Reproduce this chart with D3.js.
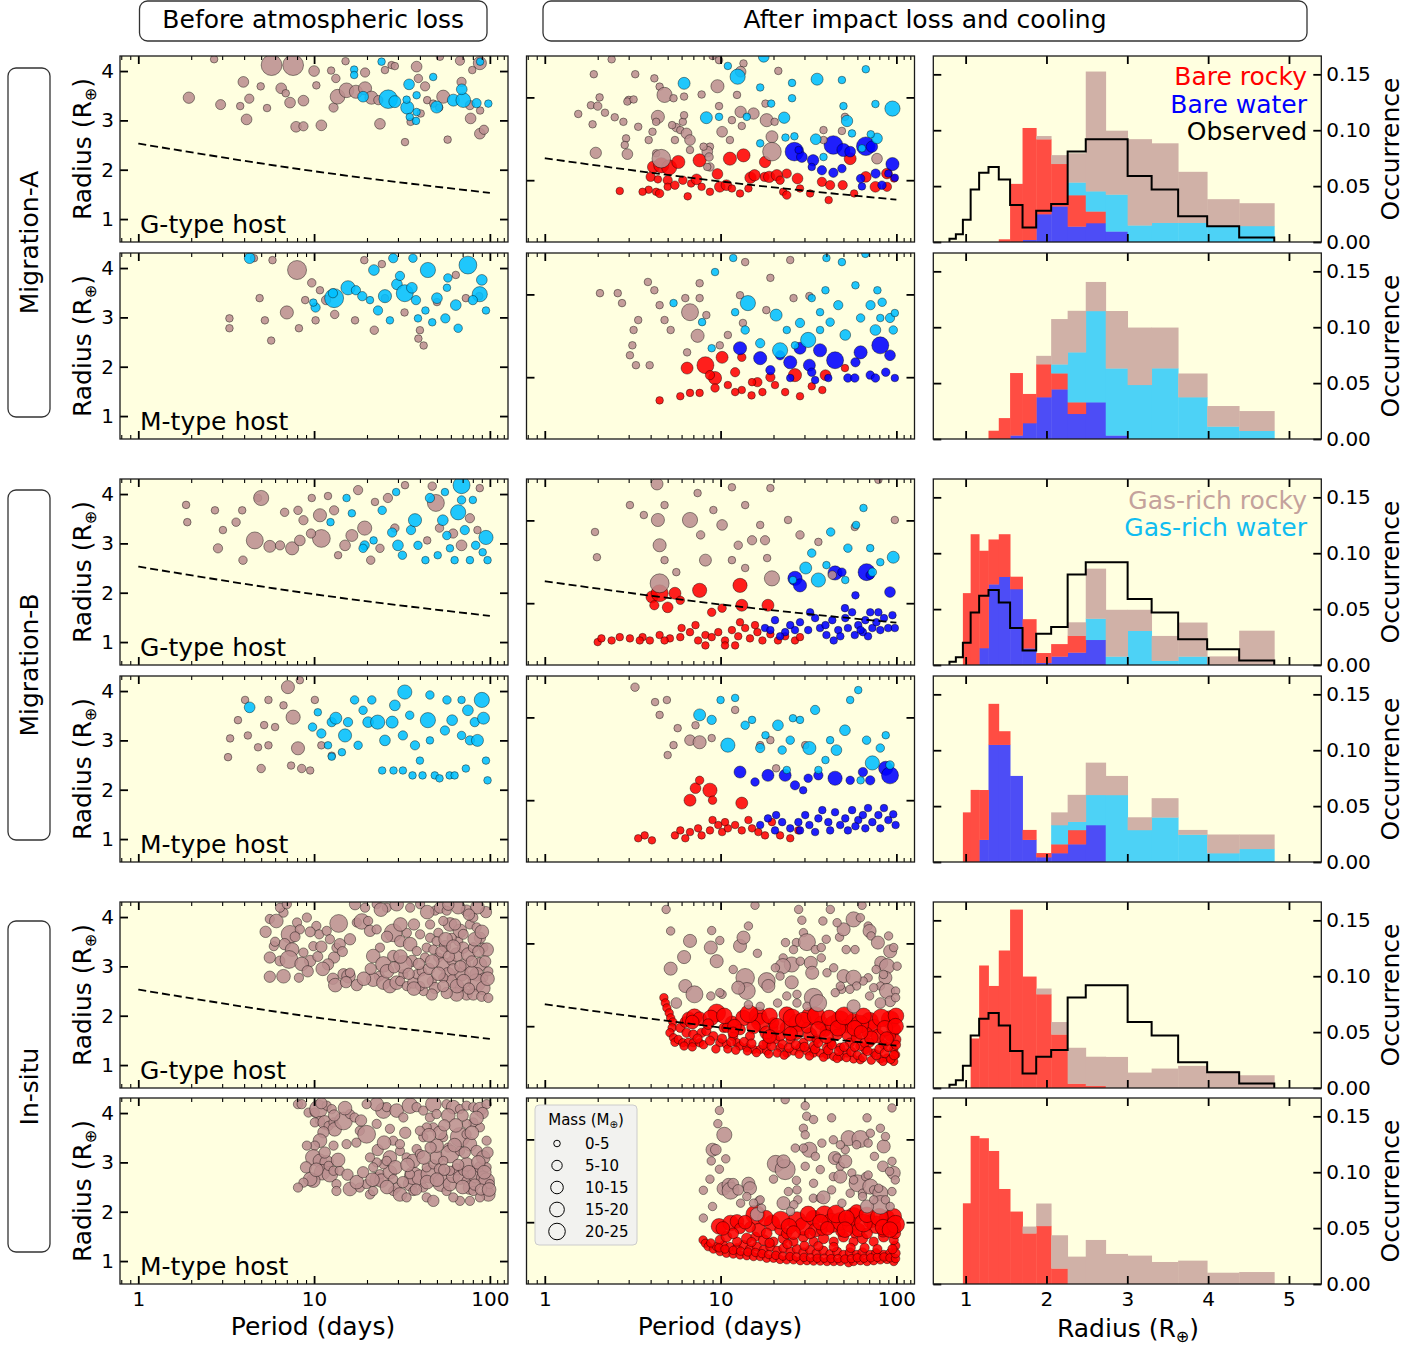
<!DOCTYPE html>
<html>
<head>
<meta charset="utf-8">
<script src="https://cdn.jsdelivr.net/npm/d3@7"></script>
<style>
  body { margin: 0; background: #ffffff; }
  svg text { font-family: "DejaVu Sans", sans-serif; }
</style>
</head>
<body>
<svg id="fig" width="1428" height="1348"></svg>
<script>
// ---------------------------------------------------------------
// Planet populations: [period (days), radius (R_earth), mass (M_earth)]
// Suffix 0 = before atmospheric loss, 1 = after impact loss and cooling
// a = Migration-A, b = Migration-B, s = In-situ; G / M = host type
// ---------------------------------------------------------------

// Migration-A, G-type host, before loss
const aG0Rocky = [[1.94,3.46,9],[2.94,3.32,7],[2.7,4.24,4],[3.96,3.78,8],[4.28,3.44,6],[4.13,3.02,8],[3.8,3.29,4],[4.97,3.69,4],[5.73,4.12,30],[7.6,4.12,30],[6.5,3.65,8],[6.9,3.55,4],[7.3,3.36,8],[5.4,3.25,4],[8.7,3.4,8],[7.9,2.87,8],[8.7,2.88,6],[11,2.9,8],[10,4.0,8],[10.3,3.71,4],[12.5,4.01,4],[13.3,3.85,5],[12.9,3.26,6],[13.6,3.48,15],[15.1,4.2,4],[15.3,3.61,15],[17.3,3.58,12],[19.5,3.65,12],[19.5,3.97,6],[21.2,3.46,12],[23.2,3.41,6],[23.7,2.93,8],[27.6,4.12,4],[25.3,4.02,4],[28.8,4.1,4],[38.3,4.09,8],[32.9,2.56,4],[39.2,3.85,5],[42.8,3.69,6],[35.4,2.97,4],[40.4,3.14,4],[44,3.41,4],[54.3,3.48,12],[51.5,3.26,4],[57.5,2.61,4],[67.6,4.21,6],[69,3.78,6],[77,3.31,6],[77.7,3.04,8],[87.7,4.16,12],[87.7,2.73,8],[92.5,2.81,6],[79.4,4.02,4],[52,4.29,4],[88,3.2,4],[47.6,3.34,4]];
const aG0Water = [[16.9,4.03,4],[16.9,3.92,4],[24.2,4.19,4],[19,3.48,8],[26.4,3.43,24],[28.8,3.38,10],[33.9,3.26,12],[34.7,3.73,8],[38.3,3.51,4],[33.6,3.42,4],[38,2.99,4],[35,3.07,4],[47.6,3.88,4],[49.8,3.27,10],[62,3.41,10],[70.6,3.41,15],[69.2,3.63,8],[84,3.35,6],[98,3.34,4],[88,4.19,4],[38.3,3.17,4]];

// Migration-A, M-type host, before loss
const aM0Rocky = [[3.3,2.98,4],[3.3,2.78,4],[4.55,4.2,4],[5.8,4.16,4],[5.25,2.94,4],[4.9,3.39,4],[7.0,3.1,12],[8.0,3.96,25],[5.7,2.53,4],[8.2,2.78,4],[8.9,3.35,4],[10.2,2.94,4],[10.8,3.55,4],[13.1,3.06,5],[17.1,2.94,4],[22,2.74,5],[19.3,4.16,4],[24.3,4.08,4],[32.7,3.1,4],[39.2,2.57,4],[42,2.43,4],[40,2.74,4],[64,3.86,4],[73,3.39,4],[87,3.43,4],[50,3.31,4],[11.7,3.35,6],[9.7,3.7,5],[25.3,3.39,4]];
const aM0Water = [[4.3,4.2,8],[13.0,3.39,25],[10.2,3.2,6],[15.6,3.6,14],[17.3,3.55,6],[18.8,3.43,6],[21.9,3.96,8],[23.1,3.14,6],[25.3,3.43,12],[28.2,4.2,6],[29.6,3.67,8],[30.8,3.84,6],[32.8,3.49,20],[36,3.6,8],[38,3.35,6],[44.4,3.96,16],[50,3.39,8],[57.7,3.8,5],[64,3.25,8],[75,4.06,22],[87.6,3.47,16],[90,3.76,8],[80,3.35,6],[95,3.14,4],[55.8,2.98,6],[39,2.98,4],[43,3.14,4],[47,2.9,4],[27,2.94,4],[20.8,3.35,4],[66,2.78,5],[57,3.6,4],[36.5,4.2,5],[12.8,3.49,6],[9.9,3.3,4]];

// Migration-B, G-type host, before loss
const bG0Rocky = [[1.9,3.43,4],[1.87,3.78,4],[2.73,3.67,4],[3.03,3.27,4],[2.84,2.9,6],[3.6,3.43,5],[3.9,3.67,4],[3.94,2.66,5],[4.6,3.06,20],[4.8,3.92,4],[5.0,3.92,16],[5.6,2.94,10],[6.4,2.96,6],[7.5,2.9,12],[8.3,3.06,8],[8.7,3.47,6],[10.8,3.57,12],[11,3.1,22],[8.1,3.67,5],[6.8,3.63,5],[9.6,3.2,6],[9.7,3.92,4],[12,3.96,4],[13,3.67,6],[13.7,2.76,4],[15,2.96,8],[16.4,3.16,10],[19.4,3.31,14],[21,2.66,5],[23.7,2.9,5],[17.8,4.08,6],[22.2,3.84,4],[26.3,3.92,6],[28.8,3.31,5],[32.9,4.18,4],[49.3,3.82,20],[47,4.16,5],[61.8,3.2,6],[69,2.96,8],[77,3.51,6],[87.6,4.12,4],[85,3.27,4],[44,3.06,4],[51.7,3.31,5]];
const bG0Water = [[15.3,3.92,4],[16.4,3.61,4],[19.4,2.96,6],[19,2.9,5],[24.4,3.67,5],[27.8,3.22,6],[30,2.96,8],[31.8,2.76,5],[35.6,3.27,6],[37.5,3.47,12],[39,2.96,5],[43,2.66,4],[45.6,3.92,6],[54,3.47,8],[56.9,3.16,5],[59.3,2.9,4],[66,3.63,16],[69,4.18,20],[72,3.27,6],[77,2.66,4],[83,2.96,5],[95,3.12,14],[97,2.66,4],[91,2.82,4],[63,2.66,4],[50.5,2.76,4],[80,3.88,4],[55.5,4.04,4],[29.3,4.04,4],[12.4,3.43,4],[21.8,3.06,4],[69,3.88,5]];

// Migration-B, M-type host, before loss
const bM0Rocky = [[3.24,2.66,4],[3.33,3.04,4],[3.69,3.41,4],[4.05,3.82,4],[4.8,2.86,4],[5.0,2.43,5],[5.2,3.31,4],[5.5,3.82,4],[6.0,3.27,4],[6.7,3.71,4],[7.1,4.08,12],[7.6,3.47,14],[8.1,2.84,12],[7.4,2.49,4],[8.5,2.43,5],[8.3,4.22,4],[10.1,3.82,4],[11,2.9,4],[12.6,2.69,4],[9.5,2.39,4],[5.5,2.9,4],[4.2,3.1,4]];
const bM0Water = [[4.3,3.67,8],[9.8,3.27,5],[10.5,3.57,4],[11,3.14,6],[12.6,3.37,6],[13.3,3.45,10],[15,3.1,12],[15.6,3.37,6],[17,3.82,5],[17.8,2.9,5],[19,3.61,5],[20.3,3.37,8],[23,3.37,14],[25.3,3.0,8],[27.8,3.37,10],[28.8,3.71,8],[32.8,3.98,14],[32,3.1,6],[35,3.51,5],[37.5,2.9,6],[40,2.59,4],[44.4,3.41,16],[45.6,3.92,5],[45.6,3.0,4],[48.6,2.29,4],[51.7,2.23,4],[55.5,3.2,6],[57,3.82,5],[59,2.29,4],[63,2.29,4],[69,3.82,4],[75,3.61,8],[77,3.0,6],[82,3.37,6],[85,3.0,10],[90,3.82,16],[92,3.45,10],[95,2.59,4],[97,2.19,4],[73,2.43,4],[41.4,2.29,4],[36.3,2.29,4],[32,2.39,4],[28.3,2.39,4],[24.4,2.39,4],[21.3,3.82,5],[69,3.1,5],[61,3.41,8],[14.4,2.76,4],[12.6,2.67,4],[12,2.9,4]];

// In-situ, G-type host, before loss
const sG0Rocky = [[5.6,3.96,6],[6.1,3.92,13],[6.7,4.09,6],[7.3,3.65,22],[6.8,3.45,9],[5.9,3.41,6],[7.5,3.34,13],[5.6,3.18,9],[6.4,3.11,7],[7.2,3.14,22],[6.7,2.8,13],[5.6,2.79,9],[8.2,2.77,6],[8.7,3.28,6],[9.5,3.11,9],[9.9,3.41,6],[10.3,3.82,6],[10.7,3.65,6],[11.8,3.72,6],[12.3,3.55,6],[13,3.18,9],[13.4,3.38,6],[13.8,3.87,22],[14,3.45,9],[12,3.04,9],[14.7,2.84,9],[15.7,2.8,13],[16,2.87,6],[17.5,3.89,6],[18.7,3.91,17],[20.3,3.92,6],[8.0,3.89,6],[8.3,3.75,6],[9.1,3.99,6],[6.4,4.19,6],[7.0,4.26,6],[17.1,4.26,9],[19.5,4.19,6],[22.7,4.26,6],[25.9,4.19,6],[29.5,4.26,13],[35.2,4.19,6],[40.1,4.26,6],[20.8,3.72,9],[22.7,3.75,6],[23.7,3.38,6],[21.7,3.21,13],[24.8,3.04,17],[23.5,2.8,7],[21.7,2.73,13],[24.8,2.67,13],[27,2.6,13],[29.5,2.67,13],[32.2,2.84,6],[28.2,3.68,22],[30.9,3.51,9],[33.7,3.68,6],[35.2,3.45,13],[38.4,3.31,6],[36,3.11,9],[32.2,3.04,22],[28.2,3.21,9],[30.9,2.7,6],[33.7,2.6,6],[36.7,2.67,9],[38.4,2.84,6],[41,2.9,6],[42.8,3.18,6],[43.7,3.38,6],[40.1,3.65,6],[45.7,3.58,6],[45.7,3.85,6],[48.8,4.13,6],[52,4.19,9],[56.8,4.13,6],[59.3,3.85,13],[54.3,3.92,6],[50.9,3.68,6],[49.8,3.51,6],[47.7,3.34,6],[50.9,3.18,6],[54.3,3.04,13],[60.6,3.11,6],[58,2.84,13],[61.9,2.7,13],[54.3,2.77,6],[46.7,2.7,6],[48.8,2.56,9],[67.6,2.56,6],[73.7,2.43,9],[69.1,2.84,13],[72.1,3.04,9],[64.7,3.24,13],[66.1,3.51,6],[67.6,3.72,13],[77,3.85,6],[73.7,4.13,9],[80.5,3.99,6],[84.1,3.79,6],[87.8,3.58,9],[91.8,3.38,6],[95.9,3.34,13],[87.8,3.04,13],[84.1,2.84,13],[91.8,2.77,6],[98,2.9,6],[84.1,2.67,22],[91.8,2.56,13],[80.5,2.43,9],[89.8,2.39,7],[98,2.36,6],[64.7,2.43,13],[56.8,2.46,9],[46.7,2.43,9],[41.9,2.5,6],[40.1,2.6,6],[70.6,3.38,9],[60.6,3.58,6],[55.6,3.41,9],[63.3,3.85,9],[70.6,3.65,7],[75.3,3.24,13],[80.5,3.38,7],[78.7,2.87,13],[61.9,2.94,9],[54.3,2.6,9],
  [5.3,3.7,9],[6.0,3.5,6],[7.8,3.6,7],[8.5,3.05,13],[9.2,2.9,9],[10.5,3.2,7],[11.2,2.95,13],[12.8,2.75,9],[13.2,2.62,13],[15.2,2.68,9],[17.5,2.62,9],[19.2,2.75,13],[21,2.95,9],[26,2.9,13],[28.5,2.98,9],[31,3.2,13],[34.5,2.85,9],[37,2.55,13],[39.5,3.05,9],[43,2.72,17],[45,2.95,9],[47,3.1,13],[51,2.85,13],[53,3.3,9],[56,3.55,13],[58.5,3.2,9],[62,3.4,13],[65,2.6,13],[68,3.0,9],[71,2.7,13],[76,2.55,9],[79,3.1,9],[82,3.55,13],[86,3.3,9],[90,3.7,13],[94,3.1,9],[97,2.75,13],[95,4.1,9],[85,4.2,13],[76,4.05,9],[66,4.2,13],[58,4.25,9],[44,4.1,13],[37,3.85,9],[31,3.85,13],[26,3.6,9],[24,4.15,13],[16,3.55,9],[14.5,3.3,7],[11,3.4,9],[9.5,3.7,7]];

// In-situ, M-type host, before loss
const sM0Rocky = [[8.1,4.18,6],[8.5,4.18,6],[9.3,4.01,6],[10.1,4.01,6],[10.6,4.08,22],[11.8,4.15,6],[12.6,4.08,6],[10.8,3.84,6],[10.1,3.81,6],[11.5,3.81,13],[12.1,3.74,6],[12.9,3.81,6],[13.1,3.67,13],[14.7,3.84,22],[16,3.98,6],[17,3.91,6],[18.2,3.64,6],[19.9,3.57,22],[17.4,3.4,6],[15.3,3.37,6],[12.9,3.34,6],[11.3,3.61,9],[10.8,3.44,13],[10.1,3.34,6],[9.1,3.34,6],[9.9,3.1,17],[10.8,3.03,13],[11.8,3.0,13],[11.1,2.8,17],[12.3,2.76,17],[12.1,2.93,6],[12.9,2.83,6],[13.4,2.56,6],[14,2.83,6],[9.9,2.63,13],[9.5,2.66,13],[8.7,2.59,6],[8.1,2.49,6],[13.4,2.42,6],[16,2.46,13],[18.2,2.49,6],[19.9,2.56,6],[20.8,2.35,6],[21.7,2.42,6],[22.7,2.66,13],[23.7,2.76,6],[24.2,2.63,13],[27,2.8,13],[28.2,2.66,6],[28.2,2.42,6],[29.5,2.49,6],[30.8,2.35,13],[33.6,2.29,6],[35.1,2.56,13],[36.7,2.73,22],[40,2.69,17],[41.8,2.49,6],[45.6,2.76,22],[43.7,2.9,6],[47.7,2.96,6],[49.8,3.1,13],[52,2.86,9],[53,2.59,22],[56.7,2.42,6],[59.3,2.56,13],[61.9,2.73,13],[64.7,2.86,9],[67.6,2.69,13],[70.6,2.83,6],[73.7,2.63,6],[77,2.49,13],[80.5,2.42,6],[84.1,2.76,22],[87.8,2.9,9],[91.7,2.69,13],[95.8,2.63,17],[98,2.35,13],[100,2.56,6],[87.8,2.29,6],[77,2.22,6],[67.6,2.22,6],[61.9,2.29,6],[27,3.1,13],[24.8,2.96,6],[25.9,3.03,6],[22.7,3.0,6],[20.8,3.1,6],[21.7,2.9,6],[30.8,3.23,6],[33.6,3.1,6],[36.7,3.03,13],[38.3,3.27,6],[40,3.17,6],[28.2,3.44,6],[30.8,3.37,6],[27,3.68,6],[22.7,3.78,6],[24.8,4.05,17],[25.9,4.12,6],[29.5,4.05,13],[22.7,4.18,13],[19.9,4.18,6],[32.2,3.91,6],[35.1,4.15,17],[38.3,4.12,6],[41.8,4.05,6],[47.7,4.18,17],[45.6,3.91,6],[49.8,3.98,6],[56.7,4.18,6],[61.9,4.12,13],[67.6,4.08,6],[73.7,4.15,6],[80.5,4.12,6],[87.8,4.08,13],[95.8,4.18,6],[47.7,3.71,6],[54.3,3.51,6],[58,3.3,6],[59.3,3.17,22],[67.6,3.51,26],[73.7,3.57,6],[77,3.37,13],[84.1,3.23,9],[91.7,3.1,13],[95.8,3.44,6],[87.8,3.71,6],[80.5,3.81,6],[73.7,3.78,6],[67.6,3.23,6],[54.3,3.03,6],[49.8,3.34,13],[41.8,3.51,6],[43.7,3.71,6],[40,3.64,6],[59.3,2.83,6],[35.1,2.76,6],[73.7,2.96,13],[95.8,2.9,6],[36.7,2.42,6],[43.7,2.29,6],[47.7,2.22,9],
  [9,2.9,9],[10.3,2.85,13],[11.5,3.2,9],[13.7,3.05,13],[15.5,2.75,9],[17.5,2.6,13],[19,2.8,9],[21.5,2.65,13],[23,3.25,9],[26,2.5,13],[29,2.9,13],[32,2.6,9],[34,2.95,13],[38,2.45,9],[42,3.1,13],[44,2.6,13],[46,3.3,9],[50,2.65,13],[52,3.6,13],[55,2.85,9],[58,3.95,13],[63,3.35,13],[66,2.95,9],[70,2.5,13],[72,3.2,9],[76,2.8,13],[79,3.6,13],[82,2.55,9],[86,3.0,13],[89,2.45,9],[93,2.8,13],[97,3.2,9],[99,2.45,13],[91,4.0,9],[84,3.9,13],[70,3.95,9],[64,3.75,13],[55,3.75,9],[45,3.55,13],[33,3.6,9],[25,3.4,13],[18.5,3.85,9],[15,4.1,13],[13,3.95,9],[11,4.2,9]];

// Migration-A, G-type host, after loss
const aG1Rocky = [[2.4,4.92,4],[1.9,4.56,4],[3.27,4.56,4],[4.2,4.46,4],[4.5,4.26,4],[4.8,4.06,16],[5.4,3.98,4],[6.2,4.02,4],[7.8,4.07,4],[9.6,4.27,12],[9.0,5.0,4],[9.8,4.9,4],[13.5,4.82,4],[13,4.62,8],[21.3,4.64,4],[12.4,4.06,4],[13,3.65,9],[15.4,3.61,9],[9.8,3.79,4],[11.6,3.45,4],[13.2,3.31,4],[10.2,3.17,8],[11.3,2.97,4],[8.7,2.81,4],[8.4,2.69,8],[8.6,2.56,5],[6.7,2.73,4],[6.1,3.41,4],[6.2,3.57,4],[5.6,3.27,5],[5.9,3.21,4],[6.4,3.13,8],[6.7,2.97,8],[5.3,3.33,4],[4.4,3.53,12],[4.3,3.41,4],[4.1,3.17,4],[3.9,2.97,4],[2.9,3.01,4],[2.85,2.85,4],[3.4,3.29,4],[2.8,3.41,4],[2.5,3.52,4],[1.87,3.35,4],[1.83,3.81,4],[2.0,3.79,5],[2.2,3.63,4],[2.05,4.0,4],[1.55,3.6,4],[3.0,3.94,4],[2.95,3.9,4],[3.2,3.95,4],[1.95,2.66,9],[2.95,2.63,8],[18.3,3.45,12],[19.6,3.05,10],[19.6,2.69,24],[20.3,3.41,4],[18,3.85,4],[38.5,2.97,4],[51,3.53,4],[49,3.19,4],[77.6,2.52,8],[38.5,3.21,4],[8,2.81,4],[8.7,2.32,5],[4.3,2.65,4],[5.5,2.97,4],[4.6,2.52,24],[8.4,2.32,4]];
const aG1Water = [[6.2,4.34,10],[11,4.76,4],[12.5,4.5,16],[17.6,4.98,8],[16.8,4.24,4],[19.4,3.85,4],[25.5,4.35,4],[25.5,3.98,4],[35.4,4.44,10],[49,4.42,4],[67,4.68,4],[50,3.79,4],[52.4,3.43,9],[55.9,3.13,4],[76,3.84,4],[95,3.73,16],[77.6,3.01,8],[71.5,3.11,4],[34.8,2.99,8],[23.4,3.03,4],[26.3,3.06,4],[23,3.51,9],[14.1,3.53,4],[16.8,2.89,4],[8.3,3.51,10],[9.8,3.53,4],[38.5,2.56,4],[63.7,2.77,4]];
const aG1BareWater = [[26.3,2.69,24],[29,2.56,8],[27.8,2.73,4],[33.6,2.48,9],[33,2.32,4],[37.7,2.24,6],[43.8,2.85,24],[50,2.73,12],[54.6,2.69,8],[67,2.82,24],[72.6,2.81,9],[43.8,2.18,6],[49,2.28,5],[62.6,2.04,5],[63.7,1.85,4],[76.2,2.16,6],[95,2.39,12],[90,2.16,4],[98,2.06,4],[82.8,1.88,5]];
const aG1BareRocky = [[4.15,2.32,10],[4.6,2.36,16],[5.1,2.31,16],[5.75,2.44,12],[7.6,2.48,12],[11.3,2.52,12],[13.5,2.6,12],[17.9,2.44,9],[17.8,2.08,6],[14.8,2.06,9],[15.6,2.12,9],[18.9,2.08,9],[20.9,2.12,9],[21.8,2.0,5],[23.8,2.16,6],[27.4,2.04,8],[22.7,1.72,4],[23.8,1.64,5],[32.3,1.68,4],[28.3,1.8,4],[37.7,1.96,6],[42,1.88,6],[49.5,1.88,6],[54.6,2.52,10],[57.5,1.68,4],[41.2,1.52,4],[67,2.08,8],[76,1.84,8],[88.4,1.84,6],[88.4,2.16,8],[97,2.04,4],[4,2.08,6],[4.4,2.02,4],[5,2.0,6],[3.9,1.77,4],[3.6,1.72,4],[4.3,1.72,4],[5,1.84,4],[5.5,1.88,5],[6.1,2.0,5],[6.8,1.92,4],[7.3,2.02,8],[7.8,1.84,4],[8.7,1.72,4],[9.6,2.15,8],[9.9,1.84,8],[10.8,1.88,8],[11.6,1.8,4],[12.9,1.68,4],[14.4,1.8,4],[2.67,1.74,4],[6.5,1.61,4],[4.5,1.68,5]];

// Migration-A, M-type host, after loss
const aM1Rocky = [[2.06,4.03,4],[2.6,4.03,4],[2.75,3.79,4],[3.2,3.14,4],[3.15,2.77,4],[3.05,2.53,4],[3.3,2.29,4],[3.4,3.38,4],[3.86,4.3,4],[4.2,4.1,4],[4.5,3.74,4],[4.8,3.38,4],[5.2,3.14,4],[6.3,3.91,4],[6.7,3.57,20],[7.4,3.0,12],[6.45,2.6,4],[7.6,3.91,4],[8.3,3.5,4],[9.9,2.77,4],[11,3.02,4],[12.9,3.98,4],[13.8,4.78,4],[19.2,4.4,4],[18.2,3.62,4],[26,3.91,4],[32,3.96,4],[24.9,4.83,4],[13.4,3.31,4],[3.95,2.29,4],[7.6,4.27,4]];
const aM1Water = [[14.3,3.79,16],[13.8,3.14,5],[12.1,3.57,4],[20.7,3.5,10],[23.8,3.14,4],[28.3,3.31,6],[31.5,2.9,16],[36.8,3.14,4],[33,3.91,4],[39.5,4.1,4],[46.7,3.74,6],[51.2,3.02,8],[62.6,3.43,5],[71.3,3.74,6],[76,3.14,8],[83,3.81,5],[92,3.43,6],[78,4.1,4],[58.5,4.22,4],[49,4.78,4],[40,4.88,4],[66.6,4.98,4],[11.8,4.88,4],[9.3,4.54,4],[5.4,3.79,4],[8.9,2.7,4],[7.85,3.33,4],[16.8,2.82,6],[21.8,2.65,16],[26.5,2.77,4],[36.8,3.57,4],[81,3.43,4],[96,3.14,5],[98,3.55,4],[42,3.33,5]];
const aM1BareWater = [[12.9,2.7,12],[16.8,2.46,12],[24.9,2.36,12],[28.3,2.7,10],[32,2.29,10],[36.8,2.65,12],[44.8,2.41,20],[58.5,2.36,6],[62.6,2.6,12],[81,2.77,20],[92,2.53,8],[71,2.05,5],[53,1.98,5],[41,1.98,4],[33,2.12,5],[58,1.98,5],[76,1.98,5],[87,2.12,5],[98,1.98,4],[34.5,1.93,4],[24.9,1.98,4],[21.8,2.53,6],[19.2,2.17,6]];
const aM1BareRocky = [[6.45,2.22,10],[8.2,2.29,20],[9.3,1.98,12],[10.2,2.48,10],[12.1,2.12,6],[13.2,2.48,5],[16.2,1.88,6],[26.5,2.05,12],[39.5,2.05,8],[9.3,1.74,5],[7.6,1.62,4],[6.7,1.62,4],[5.9,1.54,4],[4.5,1.44,4],[11,1.81,4],[13.2,1.69,4],[15.1,1.88,4],[17.3,1.64,4],[20.4,1.81,4],[23.3,1.64,4],[28.3,1.54,4],[33,1.78,4],[37.9,1.69,4],[15,1.56,4],[12.1,1.64,4],[8.7,2.05,6],[51,2.22,4],[19.2,2.0,6]];

// Migration-B, G-type host, after loss
const bG1Rocky = [[1.93,3.72,4],[1.98,3.11,4],[3.05,4.37,4],[3.66,4.13,4],[4.35,4.88,10],[4.4,4.01,12],[4.5,3.4,12],[4.8,4.37,4],[4.8,3.04,4],[5.6,2.75,4],[6.7,4.01,16],[7.7,3.65,5],[8.2,3.04,10],[7.4,4.66,4],[9.1,4.25,4],[10.2,3.89,8],[11.6,4.8,4],[13.8,4.37,4],[12.6,3.4,5],[15.1,3.52,6],[16.8,3.89,4],[19.2,4.78,4],[19.6,2.6,16],[18.4,3.09,4],[17.9,3.52,6],[13.8,2.85,4],[4.5,2.48,25],[11.6,3.04,4],[24.2,4.01,4],[28.3,3.65,5],[43.2,2.68,5],[79,4.98,4],[98,4.01,4],[36,3.48,4],[58,3.84,4]];
const bG1Water = [[30.5,2.85,10],[33,3.21,5],[36,2.56,14],[42.3,3.72,5],[59,3.89,4],[65,4.3,4],[73,2.75,5],[96,3.11,10],[51.2,2.56,4],[25.8,2.56,4],[81,2.99,4],[40,2.92,4],[53,3.33,5],[71,3.33,4]];
const bG1BareWater = [[26.5,2.6,14],[28.3,2.43,12],[44.8,2.73,14],[49,2.75,5],[67.7,2.75,20],[92,2.27,8],[71,2.68,5],[58.5,2.19,4],[17.9,1.4,4],[20.4,1.59,4],[23.3,1.3,4],[24.9,1.47,4],[28.3,1.54,4],[31.5,1.35,4],[34.5,1.64,4],[36.8,1.4,4],[40,1.23,4],[43.2,1.59,4],[46.7,1.35,4],[51.2,1.64,4],[53,1.4,4],[56,1.78,4],[60.7,1.47,4],[64.5,1.3,4],[66.6,1.59,4],[71,1.78,4],[73,1.4,4],[77,1.54,4],[81,1.35,4],[85,1.64,4],[89.8,1.4,4],[95,1.71,4],[98,1.4,4],[79,1.78,4],[69,1.2,4],[58,1.23,4],[48,1.2,4],[39.5,1.47,4],[32.3,1.78,4],[26.5,1.35,4],[21.8,1.2,4],[19.2,1.35,4],[51,1.88,4],[62.6,1.35,4],[44,1.1,4]];
const bG1BareRocky = [[4.07,2.15,10],[4.5,2.24,20],[5.5,2.24,10],[7.6,2.31,14],[12.9,2.43,14],[13.2,1.95,10],[18.6,1.95,10],[4.2,1.95,6],[5.0,1.9,8],[5.9,2.07,5],[10.2,1.88,5],[8.9,1.78,5],[2.0,1.06,4],[2.1,1.15,4],[2.4,1.1,4],[3.05,1.15,4],[3.6,1.18,4],[3.96,1.1,4],[4.5,1.23,4],[5.15,1.15,4],[5.9,1.18,4],[6.7,1.3,4],[7.45,1.1,4],[8.2,1.23,4],[8.9,1.18,4],[9.7,1.3,4],[10.6,1.1,4],[11.6,1.35,4],[12.6,1.2,4],[13.8,1.4,4],[14.7,1.15,4],[16.2,1.3,4],[17.3,1.1,4],[19.2,1.25,4],[21.2,1.1,4],[23.3,1.2,4],[26.5,1.1,4],[6.0,1.4,4],[7.2,1.47,4],[12.9,1.54,4],[15.7,1.47,4],[4.8,1.1,4],[8.2,0.98,4],[10.6,0.98,4],[28.3,1.18,4],[3.47,1.1,4],[2.67,1.18,4],[12.1,0.98,4]];

// Migration-B, M-type host, after loss
const bM1Rocky = [[3.26,4.73,5],[4.24,4.37,4],[4.5,4.06,4],[4.95,4.42,4],[5.0,3.09,4],[5.4,3.33,4],[5.7,3.74,4],[6.7,3.45,8],[7.6,3.4,12],[7.2,3.81,4],[8.9,3.5,4],[12.1,4.18,4],[16.8,3.33,4],[19.2,3.45,4],[20.7,2.77,4],[30.3,3.33,4]];
const bM1Water = [[7.6,4.06,10],[8.9,3.94,6],[10,4.42,4],[12.1,4.47,4],[11,3.33,14],[13.8,3.81,5],[15.1,3.94,4],[16.8,3.26,6],[18,3.57,4],[21.2,3.81,8],[22.4,3.21,5],[24.9,3.45,5],[25.8,3.98,4],[28.3,3.94,4],[32,3.26,12],[34.5,4.18,6],[36,2.73,4],[39.5,2.97,4],[45.6,3.21,8],[51,3.69,8],[54.6,4.42,4],[60.7,4.66,4],[67.7,3.45,5],[73,2.9,14],[81,3.26,5],[92,2.85,5],[87,3.57,4],[42,3.45,4],[23.8,2.73,4],[62.6,2.48,4]];
const bM1BareWater = [[12.9,2.68,10],[15.7,2.44,5],[18.6,2.6,10],[23.3,2.6,10],[26.5,2.36,6],[31.5,2.53,5],[36,2.6,6],[44.8,2.53,14],[54.6,2.48,5],[64.5,2.68,6],[71,2.48,6],[87,2.77,14],[92,2.6,20],[29.5,2.24,4],[16.8,1.4,4],[18.6,1.56,4],[20.4,1.27,4],[22.4,1.47,4],[24.9,1.32,4],[27.7,1.47,4],[30.3,1.64,4],[32,1.4,4],[36,1.56,4],[37.9,1.76,4],[41,1.47,4],[44.8,1.71,4],[47.9,1.4,4],[51.2,1.56,4],[56,1.76,4],[60.7,1.52,4],[64.5,1.64,4],[69,1.81,4],[73,1.47,4],[79,1.64,4],[85,1.81,4],[90,1.52,4],[96,1.66,4],[99,1.4,4],[66.6,1.32,4],[53,1.27,4],[42,1.27,4],[34.5,1.23,4],[28.3,1.27,4],[20.7,1.64,4],[58.5,1.37,4],[81,1.32,4]];
const bM1BareRocky = [[6.7,2.0,10],[8.7,2.24,14],[7.2,2.29,8],[13.2,1.93,10],[7.6,2.48,5],[9,2.0,5],[3.4,1.08,4],[3.7,1.15,4],[4.07,1.03,4],[5.5,1.15,4],[5.9,1.27,4],[6.7,1.23,4],[7.45,1.32,4],[7.8,1.15,4],[8.7,1.27,4],[9.7,1.4,4],[10.2,1.23,4],[11,1.32,4],[12.1,1.4,4],[13.2,1.27,4],[14.4,1.52,4],[15.1,1.32,4],[16.4,1.23,4],[17.9,1.15,4],[19.6,1.47,4],[21.8,1.15,4],[24.9,1.08,4],[27.7,1.27,4],[9,1.52,4],[10.6,1.47,4],[6.3,1.08,4]];

// In-situ, G-type host, after loss
const sG1Rocky = [[4.9,4.82,5],[5.2,4.3,5],[5.2,3.39,12],[6.2,3.67,12],[6.7,4.06,12],[6.3,2.97,12],[7.1,2.77,20],[5.6,2.56,8],[8.8,3.9,12],[8.9,4.31,5],[9.5,3.57,12],[9.9,4.07,5],[10.2,2.77,5],[8.8,2.73,5],[12.9,3.94,12],[13.5,4.14,12],[14.4,4.42,5],[13.8,3.17,24],[14.1,2.85,20],[12.6,2.93,12],[15.7,4.92,5],[16.2,3.76,5],[18.3,3.09,20],[18.7,2.97,12],[14.4,2.52,5],[16.8,2.48,5],[21.1,2.56,5],[22.7,3.65,5],[23.4,4.02,5],[25.4,3.49,16],[22.6,3.45,16],[25.4,3.06,12],[27.2,2.77,5],[27,4.02,5],[27.8,4.82,5],[29,4.56,5],[29.6,4.26,5],[31,4.03,20],[32.6,3.53,12],[33.2,3.29,12],[34.6,3.85,5],[37.4,3.9,5],[37.4,3.65,5],[33.8,2.69,24],[31,2.48,5],[35.9,2.56,20],[38.2,4.54,5],[39.9,4.1,5],[40.3,3.29,5],[42.1,4.82,5],[47.5,4.15,5],[50.1,4.34,12],[51.8,3.85,5],[50.1,3.21,12],[48.9,2.89,5],[44.9,2.81,5],[57.1,4.58,16],[58.2,3.85,5],[62.4,4.62,5],[63.8,4.92,5],[69.1,4.42,5],[70.4,4.3,12],[71.8,4.18,5],[78.5,4.02,12],[82,3.53,12],[88.5,3.45,16],[90.3,4.18,5],[92.2,3.81,12],[96.6,3.9,5],[101,3.45,5],[86.6,3.17,12],[81.1,2.97,5],[88.5,2.85,16],[92.2,2.6,8],[69.1,3.17,5],[64.7,3.09,5],[70.4,2.73,5],[57.1,3.17,16],[59.4,2.97,5],[54.4,2.89,5],[81.1,2.56,8],[57.1,2.48,12],[99,2.85,5],[99,2.69,5],[48,2.97,5],[44,3.41,5],[46,4.5,5],[76.7,3.37,5],[74.3,2.93,5],[84.5,3.25,5],[26,3.85,5],[28.4,3.57,5],[20.5,3.41,5],[21.8,3.21,5],[23.8,2.73,5],[27.2,2.56,5],[9.9,2.81,5],[11.8,3.37,5]];
const sG1BareRocky = [[4.76,2.69,5],[4.85,2.56,5],[4.95,2.44,5],[5.1,2.32,5],[5.2,2.2,5],[5.35,2.1,5],[5.3,1.96,5],[5.15,1.84,5],[5.4,1.72,5],[5.5,1.61,5],[5.75,1.68,5],[6.1,1.6,5],[6.55,1.61,5],[7.0,1.6,5],[7.6,1.6,5],[5.9,1.96,6],[6.3,2.1,8],[6.6,2.18,13],[7.1,2.23,17],[7.6,2.18,13],[6.4,1.84,6],[7.0,1.8,6],[7.8,1.84,6],[9.5,2.32,22],[8.3,1.88,6],[9.1,1.76,6],[9.9,1.6,5],[10.8,1.56,5],[11.6,2.08,13],[10.4,1.96,6],[11.8,1.76,6],[12.4,1.6,5],[12.9,1.52,5],[14.1,1.48,5],[15.4,1.44,5],[16.8,1.44,5],[13.5,2.2,17],[16.3,2.24,22],[16.8,2.1,22],[15.4,1.98,13],[14.7,1.76,6],[18.3,1.84,13],[20,1.96,6],[20.5,1.68,6],[18.3,1.6,6],[21.8,1.77,8],[21.8,1.48,5],[23.8,2.28,17],[23.8,1.96,13],[25,1.68,6],[26,1.4,5],[27.5,2.08,22],[27,1.84,13],[29.6,1.6,6],[31,1.4,5],[33.8,1.35,5],[36.9,1.35,5],[32.3,2.24,22],[32.3,1.8,13],[35.2,1.68,6],[37.4,2.08,13],[39.4,1.88,8],[42.1,1.6,8],[40.3,1.31,5],[44,1.27,5],[48,1.27,5],[44,2.04,22],[48,2.16,22],[52.4,2.0,13],[54.4,1.84,22],[57.1,2.12,17],[54.4,1.6,6],[59.4,1.72,8],[52.4,1.35,5],[57.1,1.21,5],[62.4,1.19,5],[66.5,1.44,6],[70.4,2.12,22],[74.9,2.0,13],[78.5,1.76,13],[74.3,1.35,5],[81.1,1.21,5],[88.5,1.23,5],[92.2,2.16,22],[96.6,1.92,13],[99,1.68,8],[96.6,1.44,5],[99,1.31,5],[96.6,1.15,5],[84.5,1.56,6],[70.4,1.6,6],[62.4,1.52,6],[48,1.48,6],[40.3,1.48,6],[33.8,1.52,6],[28.4,1.48,6],[21,1.35,5],[23.8,1.35,5],[18.3,1.4,5],[10.8,1.96,6],[92.2,1.76,8],[68.1,1.84,8],[46,1.8,8],[31,1.96,8],[20,2.08,8],[12.9,1.92,8],
  [6.2,1.52,5],[6.9,1.5,5],[7.4,1.7,6],[8.0,1.55,5],[8.7,1.65,6],[9.4,1.45,5],[10.2,1.7,6],[11,1.45,5],[11.5,1.62,6],[12.2,1.42,5],[13.6,1.62,6],[14.2,1.4,5],[15,1.58,6],[16,1.36,5],[17.5,1.55,6],[18.8,1.33,5],[19.5,1.52,6],[22.5,1.56,6],[23,1.3,5],[24.5,1.48,6],[26.8,1.55,6],[28,1.32,5],[30,1.5,6],[32,1.28,5],[34.5,1.45,6],[36,1.6,6],[38.5,1.25,5],[41,1.42,6],[43,1.55,6],[46,1.22,5],[47,1.4,6],[50.5,1.5,6],[52,1.24,5],[55.5,1.38,6],[58,1.5,6],[60,1.3,5],[64.5,1.24,5],[66,1.6,6],[68.5,1.4,6],[72,1.18,5],[77,1.3,6],[80,1.45,6],[84,1.15,5],[86,1.35,6],[90,1.5,6],[93,1.2,5],[97,1.3,6],[99.5,1.55,6],
  [6.9,2.1,13],[8.8,2.2,17],[10.5,2.25,17],[12,2.0,13],[14.5,2.3,22],[19,2.25,17],[21,2.0,17],[25.5,2.2,22],[29.5,2.15,17],[35,2.25,22],[36,1.92,17],[41.5,2.2,17],[46.5,1.95,17],[50.5,2.25,22],[62,2.05,22],[65,2.25,17],[82,2.2,22],[86,1.95,17],[99.5,2.25,17],[99,2.0,17],[58,1.95,17],[88,1.7,13],[72,1.72,13],[63,1.85,13],[40,1.75,13],[25,1.82,13],[19,1.75,13],[11.8,1.85,8],[8.5,2.05,8]];

// In-situ, M-type host, after loss
const sM1Rocky = [[9.85,4.7,5],[9.65,4.38,5],[9.0,3.75,12],[9.4,3.75,8],[10.5,4.11,16],[10.7,3.53,5],[8.85,3.48,5],[9.85,3.28,5],[8.7,3.04,5],[7.98,2.77,5],[10.4,2.81,12],[11.1,2.9,12],[11.4,2.76,20],[11.8,2.93,8],[12.6,2.78,8],[14.4,2.93,12],[14.7,2.82,12],[14.1,2.62,5],[13,2.46,5],[9.0,2.38,5],[7.98,2.1,5],[16.1,2.19,12],[16.5,2.52,5],[17.1,2.34,5],[20.6,3.41,20],[23.3,3.27,28],[22.8,3.47,12],[20,3.04,5],[23.3,4.96,5],[27.5,2.54,5],[30.3,4.81,5],[30.9,4.56,5],[33.8,4.48,5],[29.6,4.27,5],[30.3,4.11,5],[32,3.75,16],[29.6,3.79,5],[26.6,3.79,5],[27,3.01,5],[24.3,2.74,5],[22.8,2.46,12],[26.1,2.42,5],[27.2,2.78,5],[33.7,2.58,5],[36.9,2.58,5],[38.5,2.6,12],[42.8,4.52,5],[44.7,3.55,12],[43.8,3.1,5],[42.8,2.78,5],[53.5,4.03,16],[62.4,4.01,20],[69.1,3.91,5],[68.1,4.52,5],[51.2,3.75,5],[48,3.87,5],[46,3.55,5],[48,3.35,5],[51.2,3.47,12],[48,3.1,12],[55.8,3.19,5],[60.1,2.94,20],[64.2,2.7,5],[66.9,3.1,5],[69.1,3.14,5],[71.1,2.86,16],[74.3,2.78,5],[81.1,2.7,16],[81.1,2.42,24],[79.3,2.82,5],[83.8,3.35,8],[84.7,3.83,12],[81.1,4.27,5],[86.7,4.07,5],[94.4,3.47,5],[96.6,3.19,12],[98.6,3.02,5],[91.5,3.23,5],[94.4,2.74,5],[94.4,4.76,5],[54.6,2.7,5],[57.1,3.02,5],[64.2,2.62,5],[49,2.46,5],[68.1,2.38,12],[74.3,2.54,5],[86.7,2.54,5],[92.2,2.38,5],[75,3.59,5],[71.1,4.15,5],[59.4,3.87,5],[43.8,3.99,5],[37.7,3.91,5],[34.6,3.59,5],[36.9,3.27,5],[33.8,2.94,5],[30.3,3.35,5],[16.8,2.54,5],[15.4,2.46,5],[25,2.26,5]];
const sM1BareRocky = [[7.95,1.57,5],[8.2,1.49,5],[8.5,1.41,5],[9.1,1.35,5],[9.93,1.29,5],[10.8,1.25,5],[11.8,1.23,5],[12.9,1.21,5],[14.1,1.19,5],[15.4,1.17,5],[16.8,1.17,5],[18.3,1.13,5],[20,1.13,5],[21.8,1.1,5],[23.8,1.09,5],[26,1.09,5],[28.4,1.07,5],[31,1.07,5],[33.8,1.06,5],[36.9,1.06,5],[40.3,1.05,5],[44,1.05,5],[48,1.05,5],[53.5,1.02,5],[57.1,1.05,5],[62.4,1.07,5],[68.1,1.05,5],[74.3,1.07,5],[81.1,1.09,5],[88.5,1.1,5],[96.6,1.05,5],[9.5,1.41,5],[10.4,1.45,5],[11.3,1.41,5],[12.4,1.37,6],[13.5,1.45,6],[14.7,1.35,6],[16.1,1.41,6],[17.6,1.33,6],[19.2,1.41,6],[21,1.31,6],[22.8,1.37,6],[25,1.29,6],[27.2,1.35,6],[29.6,1.27,6],[32.3,1.33,6],[35.2,1.25,6],[38.5,1.31,6],[42.1,1.23,6],[46,1.29,6],[50,1.21,6],[54.4,1.27,6],[59.4,1.21,6],[64.2,1.27,6],[71.1,1.21,6],[76.7,1.25,6],[84.7,1.21,6],[92.2,1.25,6],[98.6,1.43,6],[9.9,1.57,6],[10.8,1.65,8],[12.4,1.53,6],[14.1,1.61,8],[15.8,1.65,6],[17.6,1.57,8],[20,1.53,6],[22.8,1.61,8],[26,1.53,6],[29.6,1.65,8],[33.8,1.53,6],[38.5,1.61,8],[44,1.53,6],[50,1.65,8],[57.1,1.53,6],[64.2,1.61,8],[74.3,1.53,6],[84.7,1.65,8],[96.6,1.57,6],[58,1.73,6],[48,1.77,6],[9.8,1.9,17],[11.4,1.98,17],[12.4,2.02,13],[15.8,2.18,26],[16.5,1.81,13],[19.6,1.98,17],[14.7,1.88,8],[12.9,1.85,8],[27.2,2.02,26],[29.6,1.9,22],[33.8,2.1,17],[34.6,1.81,13],[39,2.18,22],[42.8,1.98,26],[48,2.02,22],[54.6,1.94,17],[57.1,2.14,22],[61,1.81,13],[71.1,2.02,13],[76.7,1.94,22],[88.5,2.1,17],[94.4,1.9,22],[96.6,2.14,17],[98.6,1.73,8],[32.3,1.73,8],[37.7,1.81,8],[21.8,1.81,8],[23.8,1.73,8],[18.3,1.73,8],[11.8,1.73,8],[68.1,1.73,8],[83.8,1.77,8],[59.4,2.26,13],
  [8.8,1.5,5],[9.8,1.38,5],[10.6,1.35,5],[11.8,1.32,5],[13,1.3,5],[14.3,1.28,5],[15.8,1.27,5],[17.2,1.24,5],[18.8,1.22,5],[20.6,1.2,5],[22.6,1.18,5],[24.8,1.17,5],[27,1.16,5],[29.8,1.15,5],[32.5,1.14,5],[35.5,1.13,5],[38.9,1.13,5],[42.5,1.12,5],[46.5,1.12,5],[51,1.11,5],[55.5,1.12,5],[60,1.14,5],[65.5,1.13,5],[71.5,1.14,5],[78,1.15,5],[85,1.16,5],[92,1.14,5],[99,1.12,5],[99,1.25,6],[95,1.35,6],[78,1.35,6],[66,1.38,6],[55,1.38,6],[44,1.4,6],[36,1.42,6],[30,1.43,6],[24,1.47,6],[19,1.5,6],[15,1.52,6],
  [18,2.1,17],[22,2.05,22],[24.5,1.9,17],[31.5,2.2,17],[37,2.0,17],[45.5,2.2,22],[52,2.1,17],[65,1.98,22],[68,2.18,17],[80,2.12,22],[84,1.88,17],[99,1.95,22],[92,1.82,17],[51,1.82,17],[40.5,1.85,13],[26,1.75,13],[13.8,2.0,13],[10.3,1.85,13]];

// Radius-valley boundary [period, radius]
const valleyPeriod = [1, 10, 100];
const valleyRadius = [2.53, 1.97, 1.53];

// Radius histograms (occurrence per bin)
const binEdges = [0.800,0.879,0.966,1.062,1.167,1.283,1.410,1.550,1.704,1.873,2.058,2.262,2.486,2.733,3.004,3.301,3.629,3.988,4.384,4.818];
const observed = [0.003,0.007,0.020,0.047,0.062,0.067,0.056,0.033,0.013,0.028,0.034,0.081,0.092,0.092,0.059,0.047,0.023,0.014,0.004];
const none = [0,0,0,0,0,0,0,0,0,0,0,0,0,0,0,0,0,0,0];

const hAG_bareWater = [0,0,0,0,0,0,0,0,0.002,0.025,0.032,0.014,0.017,0.0096,0,0,0,0,0];
const hAG_bareRocky = [0,0,0,0,0,0,0.0024,0.052,0.100,0.067,0.038,0.028,0.0105,0,0,0,0,0,0];
const hAG_gasWater  = [0,0,0,0,0,0,0,0,0,0,0,0.0114,0.018,0.033,0.015,0.0173,0.0173,0.0144,0.0144];
const hAG_gasRocky  = [0,0,0,0,0,0,0,0,0,0.0028,0.0077,0.026,0.107,0.057,0.077,0.071,0.0455,0.0239,0.0203];

const hAM_bareWater = [0,0,0,0,0,0,0,0.0033,0.0143,0.0375,0.0446,0.0226,0.033,0.0033,0,0,0,0,0];
const hAM_bareRocky = [0,0,0,0,0,0.0074,0.0187,0.0557,0.026,0.0295,0.0143,0.0104,0,0,0,0,0,0,0];
const hAM_gasWater  = [0,0,0,0,0,0,0,0,0,0,0.008,0.0447,0.0816,0.060,0.0485,0.0634,0.0375,0.0113,0.0074];
const hAM_gasRocky  = [0,0,0,0,0,0,0,0,0,0.0074,0.0404,0.037,0.0259,0.0512,0.0512,0.0363,0.0211,0.0182,0.0176];

const hBG_bareWater = [0,0,0,0,0.0152,0.0723,0.079,0.068,0.015,0.002,0.0077,0.0113,0.0226,0,0,0,0,0,0];
const hBG_bareRocky = [0,0,0.0643,0.117,0.087,0.040,0.038,0.011,0.026,0.0087,0.011,0.0149,0,0,0,0,0,0,0];
const hBG_gasWater  = [0,0,0,0,0,0,0,0,0,0,0,0,0.019,0.0077,0.0307,0.0039,0.0077,0,0];
const hBG_gasRocky  = [0,0,0,0,0,0,0,0,0,0,0,0.012,0.0446,0.0417,0.0187,0.0221,0.0303,0.0077,0.0307];

const hBM_bareWater = [0,0,0,0,0.020,0.105,0.105,0.077,0.020,0.0044,0.008,0.016,0.0331,0,0,0,0,0,0];
const hBM_bareRocky = [0,0,0.0444,0.0645,0.0444,0.0365,0.012,0,0.0087,0.0036,0.008,0.0127,0,0,0,0,0,0,0];
const hBM_gasWater  = [0,0,0,0,0,0,0,0,0,0,0.0171,0.0074,0.027,0.060,0.0287,0.040,0.0246,0.008,0.0118];
const hBM_gasRocky  = [0,0,0,0,0,0,0,0,0,0,0.0113,0.024,0.0288,0.017,0.0113,0.0171,0.0041,0.0166,0.0128];

const hSG_bareRocky = [0,0,0,0.0443,0.1096,0.0913,0.123,0.1596,0.0997,0.084,0.048,0.004,0.002,0,0,0,0,0,0];
const hSG_gasRocky  = [0,0,0,0,0,0,0,0,0,0.005,0.011,0.032,0.026,0.0278,0.0138,0.0174,0.0198,0.0153,0.0114];

const hSM_bareRocky = [0,0,0.0722,0.1325,0.1304,0.119,0.085,0.0648,0.0454,0.052,0.014,0,0,0,0,0,0,0,0];
const hSM_gasRocky  = [0,0,0,0,0,0,0,0,0.006,0.020,0.0296,0.0245,0.0394,0.0269,0.0254,0.0197,0.0209,0.0101,0.0107];

// Axis ticks and labels
const periodMajor = [1, 10, 100];
const periodMinor = [0.8,0.9,2,3,4,5,6,7,8,9,20,30,40,50,60,70,80,90,110,120];
const radiusTicksBefore = [1, 2, 3, 4];
const radiusTicksAfter = [2, 4];
const radiusTicksHist = [1, 2, 3, 4, 5];
const occTicks = [0, 0.05, 0.10, 0.15];
// representative mass drawn for each legend bin
const massLegend = [3, 7.5, 11, 15, 19];
const massLegendLabels = ["0-5", "5-10", "10-15", "15-20", "20-25"];
const scenarios = ["Migration-A", "Migration-B", "In-situ"];
const hostLabels = ["G-type host", "M-type host"];

// ---------------------------------------------------------------
// Layout
// ---------------------------------------------------------------
const FONT = "DejaVu Sans";
const colX = [120, 526.5, 933.3];
const rowY = [56, 253, 479, 676, 902, 1098];
const PW = 388, PH = 186;
const BG = "#ffffe0";
const COL = { rocky: "#bc8f8f", water: "#00bfff", bareRocky: "#ff0000", bareWater: "#0000ff" };

const xPeriod = d3.scaleLog().domain([0.787, 126.8]).range([0, PW]);
const yBefore = d3.scaleLinear().domain([0.535, 4.305]).range([PH, 0]);
const yAfter = d3.scaleLinear().domain([0.507, 5.0]).range([PH, 0]);
const xRad = d3.scaleLinear().domain([0.6, 5.4]).range([0, PW]);
const yOcc = d3.scaleLinear().domain([0, 0.1664]).range([PH, 0]);
const rMass = d3.scaleSqrt().domain([0, 25]).range([0, 9.5]);

const svg = d3.select("#fig");
svg.append("rect").attr("width", 1428).attr("height", 1348).attr("fill", "#fff");

function panel(col, row) {
  const g = svg.append("g").attr("transform", `translate(${colX[col]},${rowY[row]})`);
  g.append("rect").attr("width", PW).attr("height", PH).attr("fill", BG);
  const id = `clip-${col}-${row}`;
  g.append("clipPath").attr("id", id).append("rect").attr("width", PW).attr("height", PH);
  const body = g.append("g").attr("clip-path", `url(#${id})`);
  return { g, body };
}

function styleAxis(sel, w) {
  sel.select(".domain").remove();
  sel.selectAll(".tick line").attr("stroke", "#000").attr("stroke-width", w);
  sel.attr("font-size", 20).attr("font-family", FONT).attr("color", "#000");
  sel.selectAll(".tick text").attr("fill", "#000");
}

function xTicks(g, scale, major, minor, labels, fmt) {
  const blank = () => "";
  styleAxis(g.append("g").attr("transform", `translate(0,${PH})`)
    .call(d3.axisBottom(scale).tickValues(major).tickSize(-8).tickPadding(8).tickFormat(labels ? fmt : blank)), 1.8);
  styleAxis(g.append("g").call(d3.axisTop(scale).tickValues(major).tickSize(-8).tickFormat(blank)), 1.8);
  if (minor) {
    styleAxis(g.append("g").attr("transform", `translate(0,${PH})`)
      .call(d3.axisBottom(scale).tickValues(minor).tickSize(-4).tickFormat(blank)), 1.1);
    styleAxis(g.append("g").call(d3.axisTop(scale).tickValues(minor).tickSize(-4).tickFormat(blank)), 1.1);
  }
}

function yTicks(g, scale, major, side, fmt) {
  const blank = () => "";
  styleAxis(g.append("g")
    .call(d3.axisLeft(scale).tickValues(major).tickSize(-8).tickPadding(6).tickFormat(side === "left" ? fmt : blank)), 1.8);
  styleAxis(g.append("g").attr("transform", `translate(${PW},0)`)
    .call(d3.axisRight(scale).tickValues(major).tickSize(-8).tickPadding(5).tickFormat(side === "right" ? fmt : blank)), 1.8);
}

function frame(g) {
  g.append("rect").attr("width", PW).attr("height", PH).attr("fill", "none")
    .attr("stroke", "#1a1a1a").attr("stroke-width", 1.3);
}

function dots(body, data, yScale, color) {
  body.append("g").selectAll("circle").data(data).join("circle")
    .attr("cx", d => xPeriod(d[0])).attr("cy", d => yScale(d[1])).attr("r", d => rMass(d[2]))
    .attr("fill", color).attr("fill-opacity", 0.88)
    .attr("stroke", "#000").attr("stroke-width", 0.7).attr("stroke-opacity", 0.6);
}

function valley(body, yScale) {
  const pts = valleyPeriod.map((p, i) => [xPeriod(p), yScale(valleyRadius[i])]);
  body.append("path").attr("d", d3.line().curve(d3.curveMonotoneX)(pts))
    .attr("fill", "none").attr("stroke", "#000").attr("stroke-width", 1.8).attr("stroke-dasharray", "8,4");
}

function hist(body, layers, showObserved) {
  const keys = ["bareWater", "bareRocky", "gasWater", "gasRocky"];
  const rows = binEdges.slice(0, -1).map((e, i) => ({
    i, bareWater: layers[0][i], bareRocky: layers[1][i], gasWater: layers[2][i], gasRocky: layers[3][i]
  }));
  const fills = {
    bareWater: d3.interpolateRgb(BG, COL.bareWater)(0.7),
    bareRocky: d3.interpolateRgb(BG, COL.bareRocky)(0.7),
    gasWater: d3.interpolateRgb(BG, COL.water)(0.7),
    gasRocky: d3.interpolateRgb(BG, COL.rocky)(0.7)
  };
  const stacked = d3.stack().keys(keys)(rows);
  body.append("g").selectAll("g").data(stacked).join("g")
    .attr("fill", s => fills[s.key])
    .selectAll("rect").data(s => s.filter(d => d[1] - d[0] > 0)).join("rect")
    .attr("x", d => xRad(binEdges[d.data.i]))
    .attr("width", d => xRad(binEdges[d.data.i + 1]) - xRad(binEdges[d.data.i]) + 0.4)
    .attr("y", d => yOcc(d[1]))
    .attr("height", d => yOcc(d[0]) - yOcc(d[1]) + 0.3);
  if (showObserved) {
    const pts = [[binEdges[0], 0]]
      .concat(observed.map((v, i) => [binEdges[i], v]))
      .concat([[binEdges[binEdges.length - 1], 0]]);
    body.append("path")
      .attr("d", d3.line().x(d => xRad(d[0])).y(d => yOcc(d[1])).curve(d3.curveStepAfter)(pts))
      .attr("fill", "none").attr("stroke", "#000").attr("stroke-width", 2);
  }
}

// ---------------------------------------------------------------
// Panels
// ---------------------------------------------------------------
const before = [
  [aG0Rocky, aG0Water], [aM0Rocky, aM0Water],
  [bG0Rocky, bG0Water], [bM0Rocky, bM0Water],
  [sG0Rocky, []], [sM0Rocky, []]
];
const after = [
  [aG1BareRocky, aG1BareWater, aG1Rocky, aG1Water],
  [aM1BareRocky, aM1BareWater, aM1Rocky, aM1Water],
  [bG1BareRocky, bG1BareWater, bG1Rocky, bG1Water],
  [bM1BareRocky, bM1BareWater, bM1Rocky, bM1Water],
  [sG1BareRocky, [], sG1Rocky, []],
  [sM1BareRocky, [], sM1Rocky, []]
];
const hists = [
  [hAG_bareWater, hAG_bareRocky, hAG_gasWater, hAG_gasRocky],
  [hAM_bareWater, hAM_bareRocky, hAM_gasWater, hAM_gasRocky],
  [hBG_bareWater, hBG_bareRocky, hBG_gasWater, hBG_gasRocky],
  [hBM_bareWater, hBM_bareRocky, hBM_gasWater, hBM_gasRocky],
  [none, hSG_bareRocky, none, hSG_gasRocky],
  [none, hSM_bareRocky, none, hSM_gasRocky]
];
const fmtP = d3.format("d");

for (let row = 0; row < 6; row++) {
  const last = row === 5;
  const isG = row % 2 === 0;

  // Before atmospheric loss
  {
    const { g, body } = panel(0, row);
    dots(body, before[row][0], yBefore, COL.rocky);
    dots(body, before[row][1], yBefore, COL.water);
    if (isG) valley(body, yBefore);
    xTicks(g, xPeriod, periodMajor, periodMinor, last, fmtP);
    yTicks(g, yBefore, radiusTicksBefore, "left", fmtP);
    frame(g);
    g.append("text").attr("x", 20).attr("y", 177).attr("font-size", 25).attr("fill", "#000")
      .text(hostLabels[row % 2]);
  }

  // After impact loss and cooling
  {
    const { g, body } = panel(1, row);
    dots(body, after[row][0], yAfter, COL.bareRocky);
    dots(body, after[row][1], yAfter, COL.bareWater);
    dots(body, after[row][2], yAfter, COL.rocky);
    dots(body, after[row][3], yAfter, COL.water);
    if (isG) valley(body, yAfter);
    xTicks(g, xPeriod, periodMajor, periodMinor, last, fmtP);
    yTicks(g, yAfter, radiusTicksAfter, null, fmtP);
    frame(g);
  }

  // Radius distribution
  {
    const { g, body } = panel(2, row);
    hist(body, hists[row], isG);
    xTicks(g, xRad, radiusTicksHist, null, last, fmtP);
    yTicks(g, yOcc, occTicks, "right", d3.format(".2f"));
    frame(g);
    svg.append("text").attr("transform", `translate(1399,${rowY[row] + PH / 2}) rotate(-90)`)
      .attr("text-anchor", "middle").attr("font-size", 25).attr("fill", "#000").text("Occurrence");
  }

  // Radius label for the left column
  const lab = svg.append("text").attr("transform", `translate(91,${rowY[row] + PH / 2}) rotate(-90)`)
    .attr("text-anchor", "middle").attr("font-size", 25).attr("fill", "#000");
  lab.append("tspan").text("Radius (R");
  lab.append("tspan").text("\u2295").attr("font-size", 16).attr("dy", 5);
  lab.append("tspan").text(")").attr("dy", -5);
}

// Histogram legends
const legendTop = [
  { t: "Bare rocky", c: COL.bareRocky, y: 85 },
  { t: "Bare water", c: COL.bareWater, y: 113 },
  { t: "Observed", c: "#000", y: 140 }
];
const legendMid = [
  { t: "Gas-rich rocky", c: "#c4a29c", y: 509 },
  { t: "Gas-rich water", c: "#10bdf0", y: 536 }
];
svg.append("g").selectAll("text").data(legendTop.concat(legendMid)).join("text")
  .attr("x", 1307).attr("y", d => d.y).attr("text-anchor", "end").attr("font-size", 25)
  .attr("fill", d => d.c).text(d => d.t);

// Column headers
function header(x0, x1, label) {
  svg.append("rect").attr("x", x0).attr("y", 1).attr("width", x1 - x0).attr("height", 40)
    .attr("rx", 8).attr("fill", "#fff").attr("stroke", "#333").attr("stroke-width", 1.3);
  svg.append("text").attr("x", (x0 + x1) / 2).attr("y", 28).attr("text-anchor", "middle")
    .attr("font-size", 25).attr("fill", "#000").text(label);
}
header(139.5, 487, "Before atmospheric loss");
header(543, 1307, "After impact loss and cooling");

// Scenario labels
const scenarioBoxes = [[68, 417], [490, 840], [921, 1252]];
scenarios.forEach((s, i) => {
  const [y0, y1] = scenarioBoxes[i];
  svg.append("rect").attr("x", 8).attr("y", y0).attr("width", 42).attr("height", y1 - y0)
    .attr("rx", 8).attr("fill", "#fff").attr("stroke", "#333").attr("stroke-width", 1.3);
  svg.append("text").attr("transform", `translate(38,${(y0 + y1) / 2}) rotate(-90)`)
    .attr("text-anchor", "middle").attr("font-size", 25).attr("fill", "#000").text(s);
});

// Bottom axis titles
[313, 720].forEach(cx => {
  svg.append("text").attr("x", cx).attr("y", 1335).attr("text-anchor", "middle")
    .attr("font-size", 25).attr("fill", "#000").text("Period (days)");
});
{
  const t = svg.append("text").attr("x", 1128).attr("y", 1337).attr("text-anchor", "middle")
    .attr("font-size", 25).attr("fill", "#000");
  t.append("tspan").text("Radius (R");
  t.append("tspan").text("\u2295").attr("font-size", 16).attr("dy", 5);
  t.append("tspan").text(")").attr("dy", -5);
}

// Mass legend
{
  const lg = svg.append("g");
  lg.append("rect").attr("x", 535).attr("y", 1105).attr("width", 102).attr("height", 140)
    .attr("rx", 4).attr("fill", "#f2f2ef").attr("stroke", "#cccccc").attr("stroke-width", 1);
  const t = lg.append("text").attr("x", 586).attr("y", 1125).attr("text-anchor", "middle")
    .attr("font-size", 15).attr("fill", "#000");
  t.append("tspan").text("Mass (M");
  t.append("tspan").text("\u2295").attr("font-size", 10).attr("dy", 3);
  t.append("tspan").text(")").attr("dy", -3);
  const rowsY = d3.scalePoint().domain(massLegend).range([1143.5, 1231.5]);
  lg.selectAll("circle").data(massLegend).join("circle")
    .attr("cx", 557).attr("cy", d => rowsY(d)).attr("r", d => rMass(d))
    .attr("fill", "none").attr("stroke", "#000").attr("stroke-width", 1);
  lg.selectAll("text.lbl").data(massLegend).join("text").attr("class", "lbl")
    .attr("x", 585).attr("y", d => rowsY(d) + 5).attr("font-size", 15).attr("fill", "#000")
    .text((d, i) => massLegendLabels[i]);
}
</script>
</body>
</html>
